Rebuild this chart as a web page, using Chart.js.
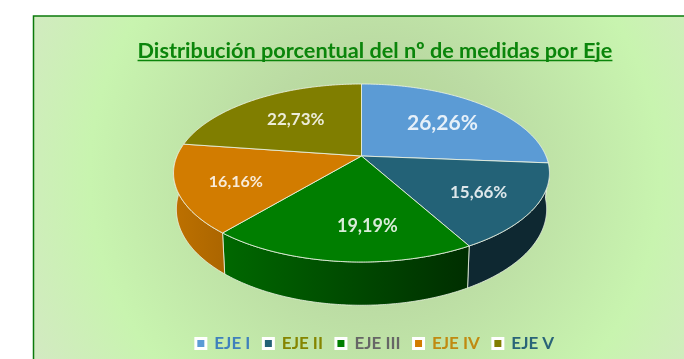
<!DOCTYPE html>
<html>
<head>
<meta charset="utf-8">
<title>Distribución porcentual</title>
<script src="https://cdn.jsdelivr.net/npm/chart.js@4"></script>
<style>
  html, body { margin: 0; padding: 0; background: #fff; overflow: hidden; }
  #wrap { width: 684px; height: 359px; }
</style>
</head>
<body>
<div id="wrap"><canvas id="graf"></canvas></div>
<script>
const categorias = ["EJE I", "EJE II", "EJE III", "EJE IV", "EJE V"];
const valores = [26.26, 15.66, 19.19, 16.16, 22.73];
const titulo = "Distribución porcentual del nº de medidas por Eje";

const cores = ["#5B9BD5", "#236277", "#007E00", "#D27C00", "#807E00"];
const coresLegenda = ["#3F80BC", "#858500", "#666666", "#C08A10", "#2A6478"];
const paredes = [
  ["#4A7EAD", "#4A7EAD"],
  ["#0E2831", "#0E2831"],
  ["#006800", "#002E00"],
  ["#BC7000", "#AC6600"],
  ["#605F00", "#605F00"]
];

// the disc is seen in perspective, so the centre is not the middle of the ellipse
const cx = 361.5, cy = 156;
const rx = 184.5, ry = 85.75, persp = -0.191, fundo = 35;

function ponto(ang, r, baixo) {
  const u = Math.sin(ang) * r, v = -Math.cos(ang) * r;
  const d = 1 + persp * v;
  const x = rx * u / d, y = ry * v / d;
  if (baixo) return [cx + x * 0.985, cy + y + fundo / d];
  return [cx + x, cy + y];
}

function caminhoTopo(ctx, a0, a1) {
  ctx.beginPath();
  ctx.moveTo(cx, cy);
  for (let a = a0; a < a1; a += 0.01) ctx.lineTo(...ponto(a, 1));
  ctx.lineTo(...ponto(a1, 1));
  ctx.closePath();
}

function parede(ctx, a0, a1, i) {
  // only the front half of the rim is visible
  const ini = Math.max(a0, Math.PI / 2);
  const fim = Math.min(a1, Math.PI * 1.5);
  if (fim <= ini) return;
  ctx.beginPath();
  ctx.moveTo(...ponto(ini, 1));
  for (let a = ini; a < fim; a += 0.01) ctx.lineTo(...ponto(a, 1));
  ctx.lineTo(...ponto(fim, 1));
  for (let a = fim; a > ini; a -= 0.01) ctx.lineTo(...ponto(a, 1, true));
  ctx.lineTo(...ponto(ini, 1, true));
  ctx.closePath();
  const xa = ponto(ini, 1)[0], xb = ponto(fim, 1)[0];
  const g = ctx.createLinearGradient(Math.min(xa, xb), 0, Math.max(xa, xb), 0);
  g.addColorStop(0, paredes[i][0]);
  g.addColorStop(1, paredes[i][1]);
  ctx.fillStyle = g;
  ctx.fill();
  ctx.strokeStyle = "rgba(235,242,228,0.8)";
  ctx.lineWidth = 1;
  ctx.stroke();
}

const fundoPlugin = {
  id: "fundoPlugin",
  beforeDraw(chart) {
    const ctx = chart.ctx;
    ctx.save();
    ctx.fillStyle = "#fff";
    ctx.fillRect(0, 0, 684, 359);
    const g = ctx.createRadialGradient(375, 175, 0, 375, 175, 420);
    g.addColorStop(0, "#AFD28F");
    g.addColorStop(0.3, "#BBDBA3");
    g.addColorStop(0.68, "#C8F4AF");
    g.addColorStop(1, "#D6E6C8");
    ctx.fillStyle = g;
    ctx.fillRect(33, 16, 700, 400);
    ctx.strokeStyle = "#0B7A0B";
    ctx.lineWidth = 1.5;
    ctx.strokeRect(33.5, 16, 700, 400);
    ctx.restore();
  },
  afterDraw(chart) {
    // Chart.js has no underlined title
    const ctx = chart.ctx, t = chart.titleBlock;
    ctx.save();
    ctx.font = t.options.font.weight + " " + t.options.font.size + "px " + t.options.font.family;
    const w = ctx.measureText(titulo).width;
    const meio = t.left + t.width / 2;
    ctx.strokeStyle = t.options.color;
    ctx.lineWidth = 1.5;
    ctx.beginPath();
    ctx.moveTo(meio - w / 2, 60.5);
    ctx.lineTo(meio + w / 2, 60.5);
    ctx.stroke();
    ctx.restore();
  }
};

const pizza3d = {
  id: "pizza3d",
  beforeDatasetsDraw(chart) {
    const ctx = chart.ctx;
    const arcos = chart.getDatasetMeta(0).data;
    const ang = arcos.map(a => [a.startAngle + Math.PI / 2, a.endAngle + Math.PI / 2]);
    ctx.save();
    ang.forEach((p, i) => parede(ctx, p[0], p[1], i));
    ang.forEach((p, i) => {
      caminhoTopo(ctx, p[0], p[1]);
      ctx.fillStyle = cores[i];
      ctx.fill();
      ctx.strokeStyle = "rgba(235,242,228,0.85)";
      ctx.lineWidth = 1;
      ctx.stroke();
    });
    // labels sit on the disc, same projection as the slices
    const raios = [0.63, 0.7, 0.7, 0.7, 0.6];
    const desvioX = [2, 0, 20, 1, 1];
    const desvioY = [1, 2, 1, 3, -1];
    const tamanhos = [21, 17, 18, 16, 17];
    ctx.textAlign = "center";
    ctx.textBaseline = "middle";
    ctx.fillStyle = "rgba(255,255,255,0.85)";
    ang.forEach((p, i) => {
      const [x, y] = ponto((p[0] + p[1]) / 2, raios[i]);
      ctx.font = "bold " + tamanhos[i] + "px Lato";
      ctx.fillText(valores[i].toFixed(2).replace(".", ",") + "%", x + desvioX[i], y + desvioY[i]);
    });
    ctx.restore();
    return false;
  }
};

new Chart(document.getElementById("graf"), {
  type: "pie",
  data: {
    labels: categorias,
    datasets: [{
      data: valores,
      backgroundColor: cores
    }]
  },
  options: {
    responsive: true,
    maintainAspectRatio: false,
    animation: false,
    layout: { padding: { left: 66, bottom: -3 } },
    plugins: {
      tooltip: { enabled: false },
      title: {
        display: true,
        text: titulo,
        color: "#0B850B",
        font: { family: "Lato", size: 21.7, weight: "bold" },
        padding: { top: 38, bottom: 0 }
      },
      legend: {
        position: "bottom",
        labels: {
          boxWidth: 10,
          boxHeight: 10,
          padding: 13,
          font: { family: "Lato", size: 17, weight: "bold" },
          generateLabels: () => categorias.map((c, i) => ({
            text: c,
            fillStyle: cores[i],
            strokeStyle: "#fff",
            lineWidth: 3,
            fontColor: coresLegenda[i],
            index: i
          }))
        }
      }
    }
  },
  plugins: [fundoPlugin, pizza3d]
});
</script>
</body>
</html>
